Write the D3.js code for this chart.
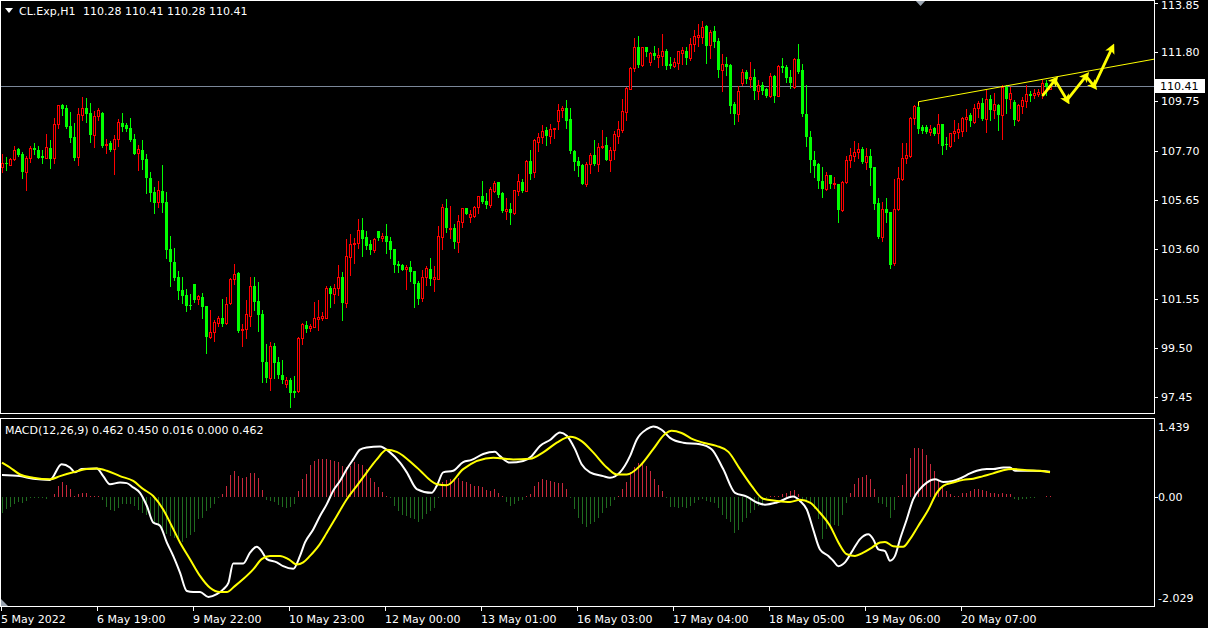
<!DOCTYPE html>
<html><head><meta charset="utf-8">
<script src="https://cdn.jsdelivr.net/npm/d3@7"></script>
<style>
html,body{margin:0;padding:0;background:#000;overflow:hidden;}
svg{display:block;}
text{font-family:"DejaVu Sans",Verdana,sans-serif;font-size:11px;fill:#fff;}
</style></head><body>
<svg id="c" width="1208" height="628"></svg>
<script>
// ---------------- DATA ----------------
const symbolTitle = "CL.Exp,H1";
const headerValues = "110.28 110.41 110.28 110.41";
const macdTitle = "MACD(12,26,9) 0.462 0.450 0.016 0.000 0.462";
const priceTicks = [113.85, 111.80, 109.75, 107.70, 105.65, 103.60, 101.55, 99.50, 97.45];
const macdTicks = [1.439, 0.00, -2.029];
const macdTickLabels = ["1.439", "0.00", "-2.029"];
const timeBars = [0, 24, 48, 72, 96, 120, 144, 168, 192, 216, 240];
const timeLabels = ["5 May 2022", "6 May 19:00", "9 May 22:00", "10 May 23:00", "12 May 00:00",
  "13 May 01:00", "16 May 03:00", "17 May 04:00", "18 May 05:00", "19 May 06:00", "20 May 07:00"];
const lastPrice = 110.41;

const open = [107.01,107.20,107.13,107.37,107.76,107.56,106.80,107.42,107.81,107.73,107.47,107.41,107.81,107.42,108.80,109.60,109.48,108.73,108.27,107.45,
109.20,109.50,109.27,108.34,109.13,109.27,107.95,108.02,107.76,108.17,108.85,108.77,108.63,108.19,107.59,107.73,107.36,106.58,105.98,105.58,
106.02,105.57,103.61,103.07,102.45,101.91,101.70,101.28,102.16,101.52,101.62,101.24,99.97,100.15,100.55,100.74,100.52,101.38,102.35,102.63,
100.23,100.27,100.85,102.07,101.45,100.91,98.93,98.26,99.58,98.93,98.38,97.99,98.17,97.72,97.72,99.90,100.46,100.32,100.39,100.71,
100.76,100.76,102.01,101.75,102.01,102.45,101.36,103.30,103.83,103.85,104.41,104.12,103.84,103.58,104.37,104.09,104.16,103.95,103.62,103.00,
102.97,102.80,102.87,102.70,102.20,101.59,102.44,102.79,102.38,102.38,104.13,105.32,104.45,104.49,103.92,104.74,105.31,104.96,104.99,105.35,
105.82,105.62,105.45,106.04,106.39,105.96,105.21,105.28,105.13,106.04,106.40,106.04,107.28,106.81,108.08,108.26,108.56,108.32,108.60,108.95,
109.39,109.48,109.02,107.69,107.27,107.11,106.34,107.15,107.52,107.17,107.85,107.94,107.31,107.73,108.32,108.56,109.32,110.29,111.15,112.01,
111.26,112.01,111.40,111.78,111.61,111.65,111.85,111.30,111.24,111.36,111.78,111.86,111.57,112.14,112.44,112.44,112.88,112.08,112.68,112.26,
111.06,111.33,111.26,109.63,109.25,110.54,110.97,110.67,110.76,110.20,110.42,110.27,109.97,110.81,109.99,111.22,111.19,110.75,110.36,111.51,
111.06,109.23,108.28,107.31,107.15,106.46,106.11,106.69,106.33,106.34,105.24,106.41,107.31,107.49,107.63,107.79,107.25,107.48,107.04,105.55,
104.13,105.28,105.14,103.02,105.30,106.52,107.41,107.49,109.05,109.53,108.67,108.69,108.49,108.66,108.42,108.81,107.98,107.91,108.42,108.49,
108.53,109.02,109.19,108.91,109.46,109.67,109.01,109.85,109.39,109.60,109.19,110.36,109.85,109.73,108.98,109.57,109.78,110.06,110.02,110.06,
110.09,110.50,110.28];
const high = [107.56,107.43,107.38,107.90,107.80,107.66,107.48,107.90,108.02,107.91,107.73,108.39,108.15,109.06,109.61,109.64,109.59,109.31,108.85,109.48,
109.92,109.88,109.70,109.35,109.46,109.31,108.17,108.09,108.35,109.02,109.27,108.84,109.06,108.39,107.94,108.15,107.56,106.81,106.20,106.44,
107.11,105.98,104.15,103.65,102.70,102.46,101.94,101.74,102.16,101.70,101.77,101.24,101.10,100.66,100.83,101.53,101.62,102.39,102.99,102.68,
100.49,101.49,102.45,102.45,102.25,101.09,99.65,99.75,99.72,99.11,99.00,98.31,98.24,98.34,99.94,100.53,100.62,100.50,101.43,101.50,
101.01,102.08,102.09,102.16,102.95,102.66,104.03,104.24,104.06,104.87,104.91,104.37,103.99,104.06,104.37,104.27,104.66,104.12,103.62,103.12,
103.01,102.95,103.12,102.70,102.29,102.74,102.91,103.26,102.91,104.57,105.49,105.70,105.41,104.64,105.03,105.34,105.31,105.24,105.41,105.82,
106.45,105.96,106.21,106.45,106.39,105.99,105.75,105.54,106.09,106.74,106.53,107.32,107.73,108.19,108.44,108.77,108.67,108.81,108.66,109.64,
109.56,109.81,109.48,107.73,107.44,107.17,107.22,107.59,108.14,108.01,108.56,108.28,107.87,108.52,108.93,109.85,110.36,111.19,112.39,112.47,
112.03,112.01,111.82,112.05,111.97,112.55,111.93,111.58,111.54,111.85,112.01,112.03,112.39,112.72,112.97,113.09,112.93,112.72,112.88,112.37,
111.72,111.58,111.33,109.71,110.39,111.12,111.06,111.39,111.10,110.64,110.56,110.31,110.92,110.86,111.26,111.55,111.26,111.06,111.57,112.14,
111.30,110.43,108.52,107.70,107.18,107.04,106.80,106.69,106.62,106.34,106.45,107.48,107.83,108.10,108.04,107.84,107.80,107.79,107.04,105.75,
105.57,105.75,105.17,106.52,107.04,108.04,108.01,109.09,109.59,109.74,108.77,108.77,108.77,108.70,109.23,108.81,108.26,108.45,108.98,108.84,
109.09,109.44,109.28,109.64,109.78,109.88,110.23,110.02,110.09,109.64,110.43,110.43,110.36,109.81,109.64,109.95,110.43,110.18,110.29,110.29,
110.64,110.64,110.41];
const low = [106.83,106.90,107.11,107.31,107.48,106.58,106.08,107.24,107.56,107.38,107.20,107.38,106.99,107.18,108.66,109.20,108.63,108.06,107.31,107.12,
108.98,108.91,108.08,107.87,108.98,107.87,107.62,107.69,106.75,107.91,108.53,108.53,108.09,107.56,106.91,106.93,105.93,105.62,105.12,105.37,
105.15,103.25,102.09,102.32,101.53,101.38,101.03,101.13,101.42,101.34,100.76,99.30,99.90,99.80,100.43,100.43,100.49,101.33,102.17,100.16,
99.59,99.93,100.41,101.08,100.22,98.08,98.08,97.75,98.24,98.24,98.03,97.89,97.06,97.48,97.68,99.65,100.18,100.22,100.36,100.25,
100.66,100.73,101.22,101.36,101.71,100.67,101.22,102.54,103.05,103.67,103.34,103.62,103.42,103.51,103.99,103.96,103.47,103.26,102.68,102.68,
102.75,101.94,102.30,101.19,101.35,101.47,102.11,102.12,101.89,102.36,103.63,104.34,104.09,103.67,103.51,104.52,105.09,104.75,104.96,105.10,
105.55,105.34,105.38,105.97,105.79,105.16,104.88,104.66,105.06,105.85,106.00,106.03,106.53,106.60,107.71,108.01,107.94,108.01,108.24,108.60,
109.11,108.66,107.62,106.90,106.66,106.31,106.25,106.79,107.13,106.87,107.83,107.31,106.87,107.35,108.01,108.49,108.98,110.25,111.01,111.18,
111.24,111.64,111.26,111.51,111.19,111.26,111.10,111.15,111.19,111.10,111.33,111.29,111.47,111.86,112.07,112.19,111.35,111.57,112.00,110.78,
110.20,110.85,109.28,108.81,108.93,110.43,110.50,110.36,109.84,109.84,110.06,109.92,109.95,109.74,109.97,110.99,110.57,110.32,110.33,110.92,
109.16,107.91,106.83,106.62,106.16,105.79,106.07,106.16,106.16,104.75,105.19,106.37,107.04,107.29,107.41,107.20,106.96,106.27,105.30,104.06,
103.96,104.75,102.84,102.95,105.24,106.48,107.20,107.45,108.81,108.45,108.45,108.42,108.35,108.35,108.04,107.56,107.77,107.87,108.10,108.22,
108.31,108.53,108.73,108.87,109.12,108.99,108.49,108.98,109.05,108.56,108.19,109.26,109.50,108.77,108.94,109.26,109.53,109.77,109.91,109.99,
109.88,110.02,110.28];
const close = [107.18,107.16,107.36,107.73,107.52,106.83,107.42,107.81,107.73,107.41,107.41,107.84,107.36,108.81,109.59,109.45,108.69,108.24,107.40,109.25,
109.50,109.24,108.37,109.14,109.39,107.91,107.99,107.73,108.17,108.89,108.70,108.60,108.16,107.58,107.76,107.31,106.58,105.96,105.54,106.07,
105.54,103.59,103.09,102.42,101.88,101.66,101.26,101.26,101.51,101.66,101.22,99.97,100.15,100.58,100.74,100.49,101.35,102.37,102.57,100.20,
100.27,100.90,102.06,101.42,100.87,98.93,98.26,99.59,98.86,98.38,98.17,98.17,97.64,97.64,99.90,100.50,100.29,100.41,100.74,100.80,
100.84,102.01,101.75,102.01,102.44,101.39,103.33,103.83,103.88,104.41,104.03,103.74,103.58,104.03,104.08,104.16,103.92,103.58,102.95,102.93,
102.76,102.86,102.68,102.18,101.55,102.44,102.83,102.38,102.45,104.16,105.37,104.50,104.49,103.92,104.78,105.31,105.09,105.07,105.37,105.82,
105.59,105.45,106.10,106.38,105.86,105.20,105.28,105.13,106.06,106.43,106.04,107.29,106.74,108.15,108.27,108.52,108.31,108.60,108.63,109.39,
109.48,108.95,107.69,107.24,107.08,106.34,107.15,107.52,107.17,107.85,107.91,107.31,107.73,108.38,108.59,109.35,110.31,111.14,112.01,111.26,
112.01,111.82,111.78,111.64,111.68,111.85,111.24,111.22,111.40,111.83,111.89,111.57,112.14,112.46,112.51,112.83,112.07,112.64,112.23,111.06,
111.33,111.19,109.57,109.23,110.18,110.97,110.68,110.76,110.20,110.42,110.18,109.99,110.81,109.99,111.22,111.15,110.74,110.53,111.53,110.96,
109.23,108.28,107.31,107.08,106.46,106.11,106.68,106.34,106.37,105.24,106.41,107.31,107.51,107.67,107.79,107.25,107.48,106.97,105.49,104.13,
105.28,105.12,102.95,105.30,106.58,107.38,107.52,109.07,109.56,108.60,108.53,108.47,108.60,108.38,108.80,107.91,107.95,108.42,108.52,108.60,
109.05,109.09,108.94,109.50,109.67,109.02,109.85,109.39,109.64,109.19,110.36,109.85,110.09,108.98,109.60,109.81,110.05,109.99,110.11,110.13,
110.50,110.34,110.41];

const histogram = [-0.30,-0.23,-0.20,-0.14,-0.10,-0.11,-0.08,-0.02,-0.02,-0.02,-0.03,-0.04,-0.01,0.04,0.19,0.27,0.21,0.14,0.01,0.04,
0.07,0.06,0.01,0.01,0.01,-0.06,-0.20,-0.24,-0.27,-0.22,-0.14,-0.13,-0.14,-0.17,-0.24,-0.30,-0.35,-0.42,-0.51,-0.54,
-0.61,-0.70,-0.74,-0.76,-0.82,-0.84,-0.76,-0.72,-0.66,-0.42,-0.39,-0.27,-0.22,-0.14,-0.02,0.04,0.20,0.40,0.48,0.38,
0.35,0.36,0.43,0.43,0.35,0.12,-0.06,-0.08,-0.10,-0.16,-0.20,-0.22,-0.19,-0.14,0.11,0.32,0.41,0.58,0.66,0.69,
0.69,0.69,0.68,0.66,0.64,0.57,0.54,0.57,0.64,0.61,0.58,0.51,0.35,0.27,0.17,0.09,0.02,-0.02,-0.17,-0.27,
-0.35,-0.36,-0.39,-0.42,-0.48,-0.42,-0.33,-0.27,-0.22,-0.02,0.27,0.30,0.33,0.32,0.35,0.29,0.27,0.23,0.19,0.19,
0.17,0.12,0.11,0.14,0.07,0.01,-0.10,-0.17,-0.14,-0.08,-0.06,0.01,0.04,0.19,0.27,0.32,0.31,0.29,0.27,0.25,
0.25,0.15,-0.02,-0.23,-0.39,-0.51,-0.56,-0.51,-0.48,-0.39,-0.30,-0.22,-0.17,-0.06,0.01,0.14,0.27,0.46,0.54,0.62,
0.63,0.56,0.48,0.33,0.21,0.11,-0.02,-0.19,-0.20,-0.22,-0.20,-0.22,-0.17,-0.11,-0.06,-0.05,-0.08,-0.10,-0.11,-0.22,
-0.35,-0.41,-0.48,-0.68,-0.62,-0.48,-0.39,-0.31,-0.24,-0.17,-0.11,-0.02,0.01,0.01,0.01,0.04,0.06,0.11,0.12,0.04,
-0.08,-0.06,-0.14,-0.23,-0.42,-0.79,-0.61,-0.57,-0.53,-0.54,-0.35,-0.11,0.07,0.23,0.34,0.37,0.40,0.32,0.15,-0.11,
-0.14,-0.20,-0.39,-0.25,0.01,0.21,0.41,0.71,0.91,0.91,0.88,0.77,0.60,0.48,0.29,0.19,0.11,0.04,0.02,0.02,
0.06,0.07,0.11,0.14,0.15,0.12,0.11,0.07,0.06,0.04,0.06,0.04,0.04,-0.05,-0.06,-0.05,-0.04,-0.02,-0.02,-0.01,
-0.01,0.02,0.016];

const macdMain = [[0,0.40],[4.5,0.38],[7.8,0.33],[12,0.31],[14.9,0.60],[17,0.54],[18.25,0.45],[19.9,0.51],[23.7,0.52],[25.3,0.38],
[27,0.23],[29.5,0.26],[31.2,0.25],[32.8,0.17],[34.5,0.07],[36.2,-0.17],[37.8,-0.48],[39.5,-0.54],[41.2,-0.85],[42.8,-1.10],
[44.5,-1.41],[46.2,-1.75],[47.8,-1.77],[49.5,-1.77],[51.6,-1.86],[53.7,-1.81],[55.3,-1.72],[56.6,-1.60],[57.8,-1.24],[60.3,-1.24],
[62,-1.04],[63.7,-0.93],[64.9,-1.01],[66.2,-1.16],[68.7,-1.22],[70.3,-1.29],[72.8,-1.34],[74.5,-1.10],[75.75,-0.85],[77.8,-0.61],
[79.5,-0.36],[81.2,-0.14],[82.8,0.11],[84.5,0.29],[86.2,0.51],[87.8,0.69],[89.5,0.87],[91.2,0.91],[94.5,0.93],[97,0.82],
[99.5,0.63],[101.2,0.45],[103.7,0.14],[107.4,0.07],[108.7,0.20],[110.3,0.45],[112.8,0.48],[115.3,0.64],[117.4,0.68],[120.3,0.79],
[123.25,0.83],[124.5,0.75],[127,0.63],[130.3,0.66],[132.4,0.75],[134.5,0.94],[137,1.05],[139.5,1.19],[141.2,1.13],[143.25,0.88],
[144.9,0.60],[147,0.45],[150.3,0.38],[152,0.35],[154.5,0.45],[157,0.75],[158.7,1.06],[161.2,1.25],[162.8,1.30],[164.9,1.24],
[167,1.09],[170.3,1.00],[174.5,0.97],[177.4,0.88],[180.3,0.51],[183.25,0.07],[186.2,0.00],[188.7,-0.11],[190.75,-0.15],[193.7,-0.11],
[197.8,0.00],[199.5,-0.08],[201.2,-0.24],[202.8,-0.61],[204.5,-0.98],[206.6,-1.10],[207.8,-1.19],[209.1,-1.29],[210.75,-1.22],[212.8,-0.98],
[214.5,-0.79],[216.6,-0.70],[217.8,-0.79],[219.1,-0.98],[220.75,-1.01],[222,-1.19],[223.25,-1.10],[224.5,-0.79],[226.2,-0.42],[227.8,-0.05],
[229.5,0.14],[231.2,0.26],[233.25,0.32],[235.3,0.27],[237.8,0.29],[239.9,0.35],[242,0.43],[243.7,0.48],[246.2,0.51],[247.8,0.51],
[250.3,0.54],[252,0.54],[253.25,0.48],[257.8,0.48],[262,0.462]];

const macdSignal = [[0,0.63],[2,0.54],[4.5,0.41],[7.8,0.35],[12,0.32],[14.5,0.38],[17.8,0.45],[21.2,0.51],[23.7,0.52],[26.2,0.48],
[29.5,0.38],[32.8,0.29],[35.3,0.14],[37.8,0.01],[40.3,-0.24],[42.4,-0.54],[44.5,-0.85],[47,-1.16],[49.5,-1.47],[52,-1.69],
[54.5,-1.77],[56.2,-1.77],[58.2,-1.66],[60.3,-1.53],[62.8,-1.35],[64.9,-1.16],[67,-1.10],[69.5,-1.10],[71.6,-1.16],[73.7,-1.26],
[75.3,-1.22],[77,-1.10],[79.1,-0.92],[81.2,-0.67],[83.7,-0.36],[86.2,-0.05],[88.7,0.20],[91.2,0.45],[93.7,0.69],[96.2,0.87],
[98.7,0.83],[103.7,0.54],[108.7,0.23],[111.2,0.21],[115.3,0.51],[122.8,0.72],[127.8,0.69],[132,0.70],[135.3,0.82],[138.7,1.00],
[142,1.11],[144.9,1.03],[147.8,0.82],[151.2,0.54],[153.7,0.41],[156.2,0.41],[159.5,0.57],[162.8,0.88],[165.75,1.16],[167.4,1.22],
[169.9,1.18],[172.8,1.06],[175.3,1.00],[178.6,0.94],[181.6,0.83],[184.5,0.51],[187.4,0.20],[190.3,-0.04],[193.7,-0.08],[197,-0.10],
[199.5,-0.06],[202,-0.11],[204.5,-0.30],[207,-0.54],[209.1,-0.85],[211.2,-1.07],[213.25,-1.10],[215.3,-1.04],[217.4,-0.95],[219.5,-0.85],
[220.75,-0.84],[222.8,-0.92],[225.3,-0.93],[227,-0.79],[229.1,-0.54],[231.6,-0.24],[233.7,0.07],[235.3,0.20],[237.8,0.26],[240.3,0.31],
[242.8,0.33],[245.3,0.38],[247.8,0.43],[250.3,0.49],[252.8,0.51],[256.2,0.49],[259.5,0.48],[262,0.450]];

// trend line anchors (bar index, price) and hand-drawn arrow zigzag (bar index, price)
const trendLine = [[229, 109.74], [262, 110.73]];
const arrowPath = [[260.25,110.02],[263.25,110.64],[266.25,109.81],[271,110.81],[273,110.39],[277.5,111.97]];

// ---------------- DRAW ----------------
const W = 1208, H = 628;
const plotR = 1154;
const mainBot = 413;
const macdTop = 418, macdBot = 606;
const svg = d3.select("#c");
svg.append("rect").attr("width", W).attr("height", H).attr("fill", "#000");

const x = d3.scaleLinear().domain([0, 288]).range([2, 1154]);
const y = d3.scaleLinear().domain([97.45, 113.85]).range([397.3, 2.9]);
const my = d3.scaleLinear().domain([-2.029, 1.439]).range([macdBot, macdTop + 1]);

const BULL = "#ff0000", BEAR = "#00ff00";

svg.append("clipPath").attr("id", "mainClip").append("rect").attr("x", 1).attr("y", 1).attr("width", plotR - 1).attr("height", mainBot - 1);
svg.append("clipPath").attr("id", "macdClip").append("rect").attr("x", 1).attr("y", macdTop + 1).attr("width", plotR - 1).attr("height", macdBot - macdTop - 1);

const gMain = svg.append("g").attr("clip-path", "url(#mainClip)");

// current price line
const yl = Math.round(y(lastPrice)) + 0.5;
gMain.append("line").attr("x1", 0).attr("x2", plotR).attr("y1", yl).attr("y2", yl)
  .attr("stroke", "#7b8799").attr("stroke-width", 1);

// candles
const gC = gMain.append("g").attr("shape-rendering", "crispEdges");
d3.range(open.length).forEach(i => {
  const cx = Math.round(x(i));
  const up = close[i] >= open[i];
  const col = up ? BULL : BEAR;
  const yH = Math.round(y(high[i])), yL = Math.round(y(low[i]));
  const yT = Math.round(y(Math.max(open[i], close[i])));
  const yB = Math.round(y(Math.min(open[i], close[i])));
  gC.append("line").attr("x1", cx + 0.5).attr("x2", cx + 0.5).attr("y1", yH).attr("y2", yL + 1).attr("stroke", col);
  const h = yB - yT;
  if (up && h >= 2) {
    gC.append("rect").attr("x", cx - 0.5).attr("y", yT + 0.5).attr("width", 2).attr("height", h)
      .attr("fill", "#000").attr("stroke", col).attr("stroke-width", 1);
  } else {
    gC.append("rect").attr("x", cx - 1).attr("y", yT).attr("width", 3).attr("height", Math.max(1, h + (up ? 1 : 0)))
      .attr("fill", col);
  }
});

// trend line (extended to the right edge)
const [t0, t1] = trendLine;
const slope = (t1[1] - t0[1]) / (t1[0] - t0[0]);
const tEnd = x.invert(plotR);
gMain.append("line")
  .attr("x1", x(t0[0]) + 0.5).attr("y1", y(t0[1]))
  .attr("x2", x(tEnd)).attr("y2", y(t0[1] + slope * (tEnd - t0[0])))
  .attr("stroke", "#ffff00").attr("stroke-width", 1);
gMain.append("line").attr("x1", x(t0[0]) + 0.5).attr("x2", x(t0[0]) + 0.5)
  .attr("y1", y(t0[1])).attr("y2", y(t0[1]) + 4).attr("stroke", "#ffff00");

// arrows
const defs = svg.append("defs");
defs.append("marker").attr("id", "ah").attr("viewBox", "0 0 10 10").attr("refX", 5).attr("refY", 5)
  .attr("markerWidth", 3.6).attr("markerHeight", 3.6).attr("orient", "auto")
  .append("path").attr("d", "M0,0 L10,5 L0,10 L2.5,5 z").attr("fill", "#ffff00");
for (let k = 0; k < arrowPath.length - 1; k++) {
  const a = arrowPath[k], b = arrowPath[k + 1];
  svg.append("line").attr("x1", x(a[0])).attr("y1", y(a[1])).attr("x2", x(b[0])).attr("y2", y(b[1]))
    .attr("stroke", "#ffff00").attr("stroke-width", 2.8).attr("stroke-linecap", "round").attr("marker-end", "url(#ah)");
}

// chart-shift marker at top
svg.append("path").attr("d", d3.line()([[915, 0], [926, 0], [920.5, 6]])).attr("fill", "#9aa4b0");

// ---- MACD panel ----
const gM = svg.append("g").attr("clip-path", "url(#macdClip)");
const y0 = Math.round(my(0));
const gH = gM.append("g").attr("shape-rendering", "crispEdges");
histogram.forEach((v, i) => {
  const cx = Math.round(x(i));
  const yv = Math.round(my(v));
  gH.append("line").attr("x1", cx + 0.5).attr("x2", cx + 0.5)
    .attr("y1", Math.min(y0, yv)).attr("y2", Math.max(y0, yv))
    .attr("stroke", v >= 0 ? "#c8283c" : "#1f6b1f");
});
const ln = d3.line().x(d => x(d[0])).y(d => my(d[1])).curve(d3.curveMonotoneX);
gM.append("path").attr("d", ln(macdMain)).attr("fill", "none").attr("stroke", "#ffffff").attr("stroke-width", 2);
gM.append("path").attr("d", ln(macdSignal)).attr("fill", "none").attr("stroke", "#ffff00").attr("stroke-width", 2);
svg.append("path").attr("d", d3.line()([[1, macdBot - 7], [1, macdBot], [8, macdBot]])).attr("fill", "#9aa4b0");

// ---- frames ----
const fr = svg.append("g").attr("fill", "none").attr("stroke", "#fff").attr("shape-rendering", "crispEdges");
fr.append("rect").attr("x", 0.5).attr("y", 0.5).attr("width", plotR).attr("height", mainBot);
fr.append("rect").attr("x", 0.5).attr("y", macdTop + 0.5).attr("width", plotR).attr("height", macdBot - macdTop);

// ---- price axis ----
const ax = svg.append("g");
priceTicks.forEach((p, k) => {
  const yy = Math.round(y(p)) + 0.5;
  ax.append("line").attr("x1", plotR).attr("x2", plotR + 4).attr("y1", yy).attr("y2", yy).attr("stroke", "#fff").attr("shape-rendering", "crispEdges");
  ax.append("text").attr("x", 1161).attr("y", Math.max(yy, 5.5)).attr("dy", "0.36em").text(p.toFixed(2));
});
// last price label
const by = Math.round(y(lastPrice));
ax.append("rect").attr("x", 1155).attr("y", by - 7).attr("width", 50).attr("height", 14).attr("fill", "#fff");
ax.append("text").attr("x", 1160).attr("y", by).attr("dy", "0.36em").style("fill", "#000").text(lastPrice.toFixed(2));

// macd axis
macdTicks.forEach((v, k) => {
  const yy = k === 0 ? 427 : (k === 2 ? 598 : Math.round(my(v)) + 0.5);
  if (k === 1) ax.append("line").attr("x1", plotR).attr("x2", plotR + 4).attr("y1", yy).attr("y2", yy).attr("stroke", "#fff").attr("shape-rendering", "crispEdges");
  ax.append("text").attr("x", 1158).attr("y", yy).attr("dy", "0.36em").text(macdTickLabels[k]);
});

// time axis
timeBars.forEach((b, k) => {
  const xx = Math.round(x(b)) - 1 + 0.5;
  ax.append("line").attr("x1", xx).attr("x2", xx).attr("y1", macdBot).attr("y2", macdBot + 5).attr("stroke", "#fff").attr("shape-rendering", "crispEdges");
  ax.append("text").attr("x", xx - 0.5).attr("y", 623).text(timeLabels[k]);
});

// header
svg.append("path").attr("d", d3.line()([[5, 8], [13, 8], [9, 13]])).attr("fill", "#fff");
svg.append("text").attr("x", 19).attr("y", 15).text(symbolTitle);
svg.append("text").attr("x", 83).attr("y", 15).text(headerValues);
svg.append("text").attr("x", 5).attr("y", 434).text(macdTitle);
</script>
</body></html>
